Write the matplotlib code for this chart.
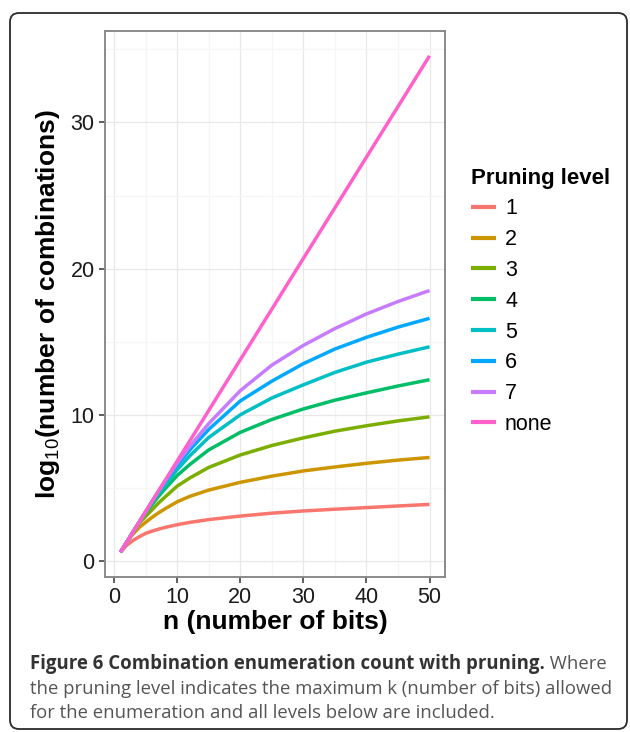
import matplotlib
matplotlib.use('Agg')
import matplotlib.pyplot as plt
from matplotlib.patches import FancyBboxPatch
from matplotlib.transforms import IdentityTransform
from matplotlib.ticker import MultipleLocator

# ---------------- data ----------------
n_bits = [1, 2, 3, 4, 5, 6, 7, 8, 10, 12, 15, 20, 25, 30, 35, 40, 45, 50]

level_1 = [0.60, 1.08, 1.40, 1.66, 1.89, 2.04, 2.17, 2.29, 2.48, 2.64, 2.83, 3.07, 3.27, 3.42, 3.54, 3.65, 3.76, 3.87]
level_2 = [0.60, 1.29, 1.85, 2.30, 2.65, 2.98, 3.28, 3.55, 4.05, 4.42, 4.85, 5.38, 5.80, 6.16, 6.43, 6.68, 6.90, 7.08]
level_3 = [0.60, 1.29, 1.99, 2.60, 3.05, 3.50, 3.95, 4.35, 5.12, 5.68, 6.40, 7.25, 7.90, 8.42, 8.88, 9.25, 9.58, 9.86]
level_4 = [0.60, 1.29, 1.99, 2.68, 3.30, 3.85, 4.40, 4.90, 5.85, 6.60, 7.60, 8.80, 9.68, 10.40, 11.00, 11.50, 11.97, 12.40]
level_5 = [0.60, 1.29, 1.99, 2.68, 3.37, 3.98, 4.58, 5.15, 6.25, 7.20, 8.45, 10.00, 11.15, 12.05, 12.90, 13.60, 14.15, 14.65]
level_6 = [0.60, 1.29, 1.99, 2.68, 3.37, 4.07, 4.72, 5.35, 6.55, 7.60, 9.00, 10.95, 12.30, 13.50, 14.50, 15.30, 16.00, 16.60]
level_7 = [0.60, 1.29, 1.99, 2.68, 3.37, 4.07, 4.76, 5.42, 6.70, 7.85, 9.40, 11.65, 13.40, 14.75, 15.90, 16.90, 17.75, 18.50]
level_none = [0.60, 1.29, 1.99, 2.68, 3.37, 4.07, 4.76, 5.45, 6.84, 8.22, 10.30, 13.77, 17.23, 20.70, 24.16, 27.63, 31.09, 34.56]

series = [level_1, level_2, level_3, level_4, level_5, level_6, level_7, level_none]
series_labels = ['1', '2', '3', '4', '5', '6', '7', 'none']
series_colors = ['#F8766D', '#CD9600', '#7CAE00', '#00BE67',
                 '#00BFC4', '#00A9FF', '#C77CFF', '#FF61CC']

x_ticks = [0, 10, 20, 30, 40, 50]
y_ticks = [0, 10, 20, 30]

caption_bold = 'Figure 6 Combination enumeration count with pruning.'
caption_lines = [' Where',
                 'the pruning level indicates the maximum k (number of bits) allowed',
                 'for the enumeration and all levels below are included.']

# ---------------- style ----------------
plt.rcParams['font.family'] = ['Liberation Sans', 'DejaVu Sans']
plt.rcParams['mathtext.fontset'] = 'custom'
plt.rcParams['mathtext.rm'] = 'Liberation Sans'
plt.rcParams['mathtext.bf'] = 'Liberation Sans:bold'

W, H = 630, 732
fig = plt.figure(figsize=(W / 100, H / 100), dpi=100)
fig.patch.set_facecolor('white')

# rounded frame around the whole figure (pixel coordinates)
frame = FancyBboxPatch((10, H - 729), 617, 716,
                       boxstyle='round,pad=0,rounding_size=9',
                       transform=IdentityTransform(), fill=False,
                       ec='#2b2b2b', lw=1.3, zorder=0)
fig.add_artist(frame)

ax = fig.add_axes([105 / W, 1 - 577 / H, 340 / W, 546 / H])
ax.set_facecolor('white')

for vals, lab, col in zip(series, series_labels, series_colors):
    ax.plot(n_bits, vals, color=col, lw=2.5, label=lab,
            solid_capstyle='butt', solid_joinstyle='round', zorder=3)

ax.margins(x=0.05, y=0.05)
ax.set_xticks(x_ticks)
ax.set_yticks(y_ticks)
ax.xaxis.set_minor_locator(MultipleLocator(5))
ax.yaxis.set_minor_locator(MultipleLocator(5))
ax.grid(which='major', color='#e8e8e8', lw=0.9, zorder=0)
ax.grid(which='minor', color='#f6f6f6', lw=0.9, zorder=0)
ax.set_axisbelow(True)

for sp in ax.spines.values():
    sp.set_color('#8a8a8a')
    sp.set_linewidth(1.4)

ax.tick_params(which='major', length=4.5, width=1.1, color='#333333',
               labelsize=15.5, labelcolor='#1a1a1a', pad=3)
ax.tick_params(which='minor', length=0)

ax.set_xlabel('n (number of bits)', fontsize=19, fontweight='bold',
              labelpad=1)
ax.set_ylabel(r'$\mathbf{log}_{10}\mathbf{(number\ of\ combinations)}$',
              fontsize=19, labelpad=6)

handles, labels = ax.get_legend_handles_labels()
leg = fig.legend(handles, labels, title='Pruning level',
                 loc='upper left', bbox_to_anchor=(462 / W, 1 - 159 / H),
                 frameon=False, fontsize=15.5,
                 title_fontproperties={'weight': 'bold', 'size': 16},
                 handlelength=1.2, handletextpad=0.4, labelspacing=0.455,
                 alignment='left', borderaxespad=0)
for line in leg.get_lines():
    line.set_linewidth(3)

# caption
cap_font = ['Open Sans', 'DejaVu Sans']
base1 = H - 669
t1 = fig.text(30, base1, caption_bold, transform=IdentityTransform(),
              fontfamily=cap_font, fontweight='bold', fontsize=13.4,
              color='#333333', va='baseline')
fig.canvas.draw()
bb = t1.get_window_extent()
fig.text(bb.x1, base1, caption_lines[0], transform=IdentityTransform(),
         fontfamily=cap_font, fontsize=13.35, color='#555555', va='baseline')
fig.text(30, H - 694, caption_lines[1], transform=IdentityTransform(),
         fontfamily=cap_font, fontsize=13.35, color='#555555', va='baseline')
fig.text(30, H - 718, caption_lines[2], transform=IdentityTransform(),
         fontfamily=cap_font, fontsize=13.35, color='#555555', va='baseline')

fig.savefig('out.png', dpi=100)
